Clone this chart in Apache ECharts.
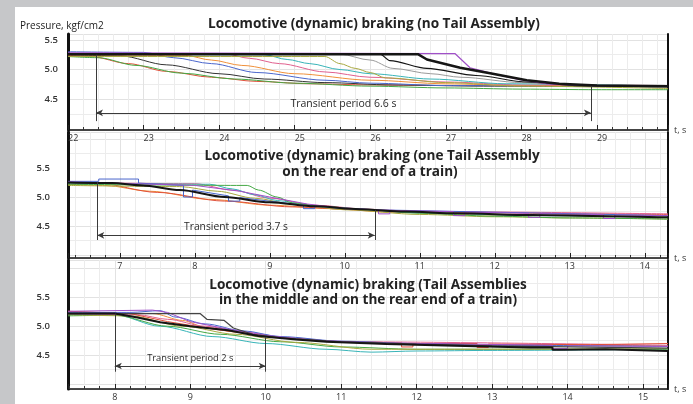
<!DOCTYPE html>
<html><head><meta charset="utf-8">
<script src="https://cdn.jsdelivr.net/npm/echarts@6/dist/echarts.min.js"></script>
<style>
html,body{margin:0;padding:0;background:#c6c7c9;overflow:hidden;}
#bg{position:absolute;left:15px;top:7px;width:678px;height:397px;background:#fff;}
#c{position:absolute;left:0;top:0;width:693px;height:404px;}
</style></head><body><div id="bg"></div><div id="c"></div>
<script>
// ---------- Titles / labels ----------
const titles1 = ['Locomotive (dynamic) braking (no Tail Assembly)'];
const titles2 = ['Locomotive (dynamic) braking (one Tail Assembly', 'on the rear end of a train)'];
const titles3 = ['Locomotive (dynamic) braking (Tail Assemblies', 'in the middle and on the rear end of a train)'];
const yName = 'Pressure, kgf/cm2';
const xName = 't, s';
const yTickLabels = [4.5, 5.0, 5.5];

// ---------- Axis ranges (t, s / pressure) ----------
const xRange1 = [22, 29.94];
const xRange2 = [6.31, 14.31];
const xRange3 = [7.38, 15.33];
const yRange1 = [3.98, 5.6];
const yRange2 = [3.95, 6.12];
const yRange3 = [3.91, 6.15];

// ---------- Transient period annotations: [tStart, tEnd, yArrow, yStartTop, yEndTop, yBottom] ----------
const trans1 = [22.37, 28.92, 4.27, 5.25, 4.72, 4.13];
const trans2 = [6.70, 10.40, 4.34, 5.26, 4.78, 4.26];
const trans3 = [8.00, 10.00, 4.31, 5.22, 4.81, 4.21];
const transLabels = ['Transient period 6.6 s', 'Transient period 3.7 s', 'Transient period 2 s'];

// ---------- Panel 1: no Tail Assembly ----------
const p1Red    = [[22,5.24],[22.3,5.22],[22.8,5.1],[23.3,4.97],[23.9,4.87],[24.5,4.8],[25.2,4.76],[26,4.74],[27,4.73],[28,4.73],[29,4.72],[29.94,4.72]];
const p1Green  = [[22,5.22],[22.4,5.2],[22.9,5.07],[23.5,4.94],[24.2,4.84],[25,4.77],[26,4.72],[27,4.69],[28,4.67],[29,4.66],[29.94,4.66]];
const p1Dark   = [[22,5.25],[22.7,5.23],[23.3,5.08],[24,4.93],[24.6,4.84],[25.4,4.78],[26.3,4.74],[27.5,4.72],[29.94,4.71]];
const p1Blue   = [[22,5.3],[23.0,5.29],[23.4,5.2],[23.9,5.1],[24.5,4.95],[25.4,4.82],[26,4.77],[27,4.73],[29.94,4.72]];
const p1Orange = [[22,5.25],[23.55,5.24],[23.9,5.16],[24.3,5.07],[25,4.93],[26,4.82],[27,4.76],[28,4.73],[29.94,4.73]];
const p1Pink   = [[22,5.27],[24.1,5.26],[24.4,5.19],[24.8,5.1],[25.4,4.96],[26,4.87],[27,4.79],[28,4.74],[29.94,4.73]];
const p1Teal   = [[22,5.26],[24.6,5.25],[24.9,5.17],[25.2,5.1],[25.6,5.0],[26,4.93],[26.8,4.84],[27.8,4.76],[29.94,4.72]];
const p1Olive  = [[22,5.22],[25.4,5.22],[25.6,5.1],[25.8,5.02],[26.0,4.95],[26.2,4.86],[27,4.78],[28,4.72],[29.94,4.68]];
const p1Gray   = [[22,5.26],[25.6,5.26],[26.0,5.16],[26.3,5.02],[26.8,4.93],[27.2,4.87],[28.0,4.78],[28.6,4.74],[29.94,4.72]];
const p1Black2 = [[22,5.26],[26.13,5.26],[26.26,5.15],[26.75,5.02],[27.4,4.9],[28.07,4.79],[28.73,4.73],[29.94,4.71]];
const p1Purple = [[22,5.28],[27.12,5.27],[27.32,5.03],[27.62,4.93],[27.98,4.83],[28.33,4.76],[29,4.73],[29.94,4.73]];
const p1Black  = [[22,5.26],[26.63,5.26],[26.75,5.17],[27.19,5.03],[27.62,4.93],[28.07,4.82],[28.5,4.76],[29,4.73],[29.94,4.72]];

// ---------- Panel 2: one Tail Assembly ----------
const p2Orange = [[6.31,5.22],[6.8,5.2],[7.4,5.1],[8.2,4.96],[9.0,4.86],[9.8,4.8],[10.6,4.74],[12,4.69],[14.31,4.65]];
const p2Red    = [[6.31,5.25],[6.7,5.24],[7.5,5.08],[8.4,4.93],[9.3,4.83],[10.2,4.78],[11,4.75],[12,4.73],[13,4.71],[14.31,4.7]];
const p2Olive  = [[6.31,5.2],[7.8,5.18],[8.3,5.1],[8.8,4.98],[9.3,4.88],[10,4.78],[11,4.7],[12,4.66],[13,4.64],[14.31,4.62]];
const p2Pink   = [[6.31,5.25],[8.0,5.23],[8.5,5.12],[9.0,4.98],[9.6,4.86],[10.3,4.79],[11,4.75],[14.31,4.71]];
const p2Teal   = [[6.31,5.24],[8.2,5.22],[8.5,5.14],[8.8,5.04],[9.1,4.94],[9.5,4.86],[10,4.8],[11,4.73],[12.5,4.68],[14.31,4.65]];
const p2Green  = [[6.31,5.22],[8.7,5.2],[8.85,5.12],[9.1,5.0],[9.3,4.9],[9.7,4.84],[10.3,4.78],[11,4.72],[12,4.67],[13,4.64],[14.31,4.62]];
const p2Blue   = [[6.31,5.27],[6.72,5.27],[6.72,5.31],[7.25,5.31],[7.25,5.24],[7.85,5.2],[7.85,5.0],[7.97,5.0],[7.97,5.12],[8.45,5.02],[8.45,4.93],[8.6,4.93],[8.6,4.99],[9.45,4.86],[9.45,4.8],[9.6,4.8],[9.6,4.84],[10.4,4.78],[14.31,4.68]];
const p2Purple = [[6.31,5.26],[8.0,5.2],[8.6,5.1],[9.0,5.0],[9.5,4.88],[10.0,4.8],[10.45,4.78],[10.45,4.71],[10.6,4.71],[10.6,4.77],[11.45,4.75],[11.45,4.68],[11.6,4.68],[11.6,4.74],[12.45,4.72],[12.45,4.65],[12.6,4.65],[12.6,4.71],[13.45,4.70],[13.45,4.63],[13.6,4.63],[13.6,4.69],[14.31,4.68]];
const p2Black  = [[6.31,5.25],[6.9,5.24],[7.3,5.2],[7.8,5.12],[8.4,5.0],[9.0,4.91],[9.6,4.84],[10.2,4.79],[10.8,4.75],[11.5,4.72],[12.5,4.69],[13.5,4.67],[14.31,4.65]];

// ---------- Panel 3: Tail Assemblies in the middle and rear ----------
const p3Teal   = [[7.38,5.2],[8.0,5.2],[8.6,5.0],[9.3,4.82],[10.0,4.7],[10.8,4.6],[11.4,4.55],[12,4.57],[13,4.58],[15.33,4.6]];
const p3Green  = [[7.38,5.18],[8.0,5.19],[8.7,5.0],[9.4,4.86],[10.2,4.73],[11,4.64],[12,4.6],[13,4.6],[15.33,4.6]];
const p3Olive  = [[7.38,5.2],[8.2,5.18],[8.9,5.0],[9.6,4.86],[10.4,4.72],[11.4,4.6],[12.5,4.6],[15.33,4.61]];
const p3Orange = [[7.38,5.25],[8.5,5.22],[8.9,5.1],[9.2,4.98],[9.6,4.9],[10.2,4.8],[11,4.72],[12,4.68],[15.33,4.66]];
const p3Pink   = [[7.38,5.22],[8.3,5.2],[8.7,5.12],[9.2,5.0],[9.7,4.9],[10.3,4.8],[11,4.73],[15.33,4.67]];
const p3Red    = [[7.38,5.26],[8.2,5.22],[8.7,5.08],[9.3,4.95],[10,4.83],[10.8,4.74],[11.8,4.71],[11.8,4.64],[11.95,4.64],[11.95,4.7],[12.8,4.70],[12.8,4.63],[12.95,4.63],[12.95,4.69],[14.3,4.68],[15.33,4.7]];
const p3Blue   = [[7.38,5.24],[8.2,5.24],[8.6,5.27],[8.8,5.16],[9.2,5.04],[9.7,4.92],[10.2,4.82],[11,4.74],[12,4.7],[13,4.67],[15.33,4.65]];
const p3Purple = [[7.38,5.26],[8.5,5.28],[8.7,5.24],[9.0,5.08],[9.5,4.95],[10,4.84],[10.6,4.76],[11.5,4.71],[13.8,4.67],[13.8,4.61],[14.0,4.61],[14.0,4.66],[15.33,4.65]];
const p3Gray   = [[7.38,5.22],[9.13,5.22],[9.22,5.12],[9.45,5.1],[9.57,4.97],[9.83,4.86],[10.2,4.8],[11,4.73],[12,4.69],[13,4.66],[15.33,4.62]];
const p3Black  = [[7.38,5.22],[8.0,5.22],[8.3,5.15],[8.6,5.07],[9.0,5.0],[9.5,4.93],[9.9,4.83],[10.4,4.77],[10.8,4.73],[11.6,4.69],[12.5,4.66],[13.5,4.63],[13.8,4.63],[13.8,4.59],[13.95,4.59],[13.95,4.62],[14.5,4.6],[15.33,4.57]];

// ---------- colours ----------
const C = {black:'#151515', red:'#e0503a', green:'#45a845', dark:'#333333', blue:'#4a66cc', orange:'#f0903a',
  pink:'#e0608e', teal:'#38b4b8', olive:'#a8a840', gray:'#9a9a9a', purple:'#a050c8'};

const FONT = '"Open Sans", "Noto Sans", sans-serif';
const grids = [
  {left:68, right:25, top:34, height:96},
  {left:68, right:25, top:132, height:126},
  {left:68, right:25, top:260, height:129}
];
const xRanges = [xRange1, xRange2, xRange3];
const yRanges = [yRange1, yRange2, yRange3];

function isInt(v){return Math.abs(v-Math.round(v))<1e-6;}
const xAxes = xRanges.map((r,i)=>({
  type:'value', gridIndex:i, min:r[0], max:r[1],
  ...(i===0 ? {interval:1} : {splitNumber:8}),
  name:xName, nameLocation:'end', nameGap:6,
  nameTextStyle:{fontSize:9, color:'#333', fontFamily:FONT, verticalAlign:'middle'},
  axisLine:{onZero:false, lineStyle:{color:'#111', width:1.5}},
  axisTick:{show:true, inside:true, length:5, lineStyle:{color:'#222'}},
  minorTick:{show:true, splitNumber:5, length:3, lineStyle:{color:'#333'}},
  axisLabel:{fontSize:9, color:'#333', fontFamily:FONT, margin:4, showMinLabel:i===0, showMaxLabel:false,
    align: i===0 ? 'left' : 'center',
    formatter:v=> isInt(v) ? String(Math.round(v)) : ''},
  splitLine:{show:true, lineStyle:{color:'#e2e2e2', width:1}},
  minorSplitLine:{show:true, lineStyle:{color:'#ececec', width:1}}
}));
const yAxes = [];
yRanges.forEach((r,i)=>{
  yAxes.push({
    type:'value', gridIndex:i, min:r[0], max:r[1], splitNumber: i===0 ? 3 : 4, position:'left',
    axisLine:{show:true, onZero:false, lineStyle:{color:'#111', width:3}},
    axisTick:{show:false},
    axisLabel:{fontSize:9.5, color:'#333', fontFamily:FONT, margin: i===0 ? 10 : 18, fontWeight:600,
      showMinLabel:true, showMaxLabel:true,
      formatter:v=>{ for (const t of yTickLabels) if (Math.abs(v-t)<1e-6) return t.toFixed(1); return ''; }},
    splitLine:{show:true, lineStyle:{color:'#e2e2e2', width:1}},
    minorTick:{show:false, splitNumber:2},
    minorSplitLine:{show:true, lineStyle:{color:'#ececec', width:1}}
  });
  yAxes.push({
    type:'value', gridIndex:i, min:r[0], max:r[1], position:'right',
    axisLine:{show:true, onZero:false, lineStyle:{color:'#111', width:2}},
    axisTick:{show:false}, axisLabel:{show:false}, splitLine:{show:false}
  });
});

const series = [];
function add(panel, data, color, width, smooth){
  series.push({type:'line', xAxisIndex:panel, yAxisIndex:panel*2, data:data, showSymbol:false, symbol:'none',
    smooth: smooth ? 0.3 : false, smoothMonotone:'x', animation:false, silent:true,
    lineStyle:{color:color, width:width||1}});
}
add(0,p1Red,C.red,1,true); add(0,p1Green,C.green,1,true); add(0,p1Dark,C.dark,1,true);
add(0,p1Blue,C.blue,1,true); add(0,p1Orange,C.orange,1,true); add(0,p1Pink,C.pink,1,true);
add(0,p1Teal,C.teal,1,true); add(0,p1Olive,C.olive,1,true); add(0,p1Gray,C.gray,1,true);
add(0,p1Black2,C.black,1.2,true); add(0,p1Purple,C.purple,1.2,false); add(0,p1Black,C.black,2.5,false);

add(1,p2Orange,C.orange,1,true); add(1,p2Red,C.red,1,true); add(1,p2Olive,C.olive,1,true);
add(1,p2Pink,C.pink,1,true); add(1,p2Teal,C.teal,1,true); add(1,p2Green,C.green,1,true);
add(1,p2Blue,C.blue,1,false); add(1,p2Purple,C.purple,1,false); add(1,p2Black,C.black,2,true);

add(2,p3Teal,C.teal,1,true); add(2,p3Green,C.green,1,true); add(2,p3Olive,C.olive,1,true);
add(2,p3Orange,C.orange,1,true); add(2,p3Pink,C.pink,1,true); add(2,p3Red,C.red,1,false);
add(2,p3Blue,C.blue,1,true); add(2,p3Purple,C.purple,1,false); add(2,p3Gray,'#444',1.2,false);
add(2,p3Black,C.black,2,false);

const transFont = [10.5, 10.3, 9.3];
[trans1,trans2,trans3].forEach((t,i)=>{
  series.push({type:'line', xAxisIndex:i, yAxisIndex:i*2, data:[], animation:false, silent:true,
    markLine:{silent:true, animation:false, symbol:['none','none'], symbolSize:[5,7],
      lineStyle:{color:'#3a3a3a', width:1, type:'solid'},
      label:{show:false},
      data:[
        [{coord:[t[0],t[2]], symbol:'arrow', label:{show:true, position:'insideMiddleTop', distance:3,
            formatter:transLabels[i], fontSize: transFont[i], color:'#2a2a2a', fontFamily:FONT}},
         {coord:[t[1],t[2]], symbol:'arrow'}],
        [{coord:[t[0],t[3]]},{coord:[t[0],t[5]]}],
        [{coord:[t[1],t[4]]},{coord:[t[1],t[5]]}]
      ]}});
});

const titleFont = 'bold 13.6px "Open Sans", "Noto Sans", sans-serif';
function txt(x,y,text,font,align){
  return {type:'text', x:x, y:y, z:100, zlevel:0, silent:true,
    style:{text:text, font:font, fill:'#222', align:align||'center', verticalAlign:'middle'}};
}
const graphic = [
  txt(20,26,yName,'10px "Open Sans", sans-serif','left'),
  txt(374,24,titles1[0],titleFont),
  txt(372,156,titles2[0],titleFont),
  txt(370,172,titles2[1],titleFont),
  txt(368,285,titles3[0],titleFont),
  txt(368,300,titles3[1],titleFont)
];

const chart = echarts.init(document.getElementById('c'), null, {renderer:'canvas'});
chart.setOption({backgroundColor:'transparent', animation:false, grid:grids, xAxis:xAxes, yAxis:yAxes, series:series, graphic:graphic});
</script></body></html>
